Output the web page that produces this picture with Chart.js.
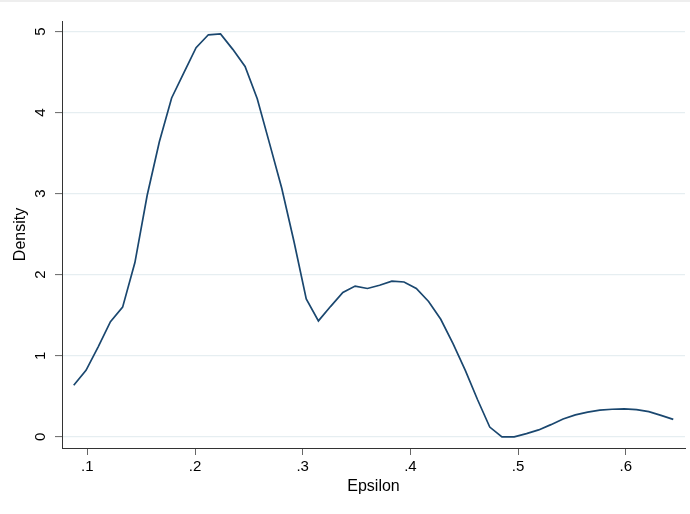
<!DOCTYPE html>
<html>
<head>
<meta charset="utf-8">
<script src="https://cdn.jsdelivr.net/npm/chart.js@4/dist/chart.umd.min.js"></script>
<style>
  html, body { margin: 0; padding: 0; background: #ffffff; }
  #wrap { width: 690px; height: 514px; position: relative; }
</style>
</head>
<body>
<div id="wrap"><canvas id="c" width="690" height="514"></canvas></div>
<script>
// Evaluation points (Epsilon) of the density estimate
const epsilon = [0.0874, 0.0988, 0.1101, 0.1215, 0.1328, 0.1442, 0.1556, 0.1669, 0.1783, 0.1896,
                 0.2010, 0.2124, 0.2237, 0.2351, 0.2465, 0.2578, 0.2692, 0.2805, 0.2919, 0.3033,
                 0.3146, 0.3260, 0.3373, 0.3487, 0.3601, 0.3714, 0.3828, 0.3941, 0.4055, 0.4169,
                 0.4282, 0.4396, 0.4510, 0.4623, 0.4737, 0.4850, 0.4964, 0.5078, 0.5191, 0.5305,
                 0.5418, 0.5532, 0.5646, 0.5759, 0.5873, 0.5986, 0.6100, 0.6214, 0.6327, 0.6441];
// Density values
const density = [0.636, 0.82, 1.11, 1.42, 1.60, 2.15, 2.98, 3.64, 4.18, 4.49,
                 4.80, 4.96, 4.97, 4.78, 4.57, 4.17, 3.62, 3.07, 2.41, 1.70,
                 1.43, 1.61, 1.78, 1.86, 1.83, 1.87, 1.92, 1.91, 1.83, 1.67,
                 1.45, 1.15, 0.82, 0.46, 0.12, 0.0, 0.0, 0.04, 0.085, 0.15,
                 0.22, 0.27, 0.305, 0.33, 0.34, 0.345, 0.336, 0.31, 0.265, 0.215];
// Tick values
const xTicks = [0.1, 0.2, 0.3, 0.4, 0.5, 0.6];
const yTicks = [0, 1, 2, 3, 4, 5];
const xTitle = 'Epsilon';
const yTitle = 'Density';

const FONT = '"Liberation Sans", Arial, Helvetica, sans-serif';
const fmtX = v => v.toFixed(1).replace(/^0/, '');

const yLabelPlugin = {
  id: 'yLabels',
  beforeDraw(chart) {
    const ctx = chart.ctx;
    ctx.save();
    ctx.fillStyle = '#eeeeee';
    ctx.fillRect(0, 0, 690, 2);
    ctx.restore();
  },
  afterDraw(chart) {
    const ctx = chart.ctx;
    const ys = chart.scales.y;
    ctx.save();
    ctx.fillStyle = '#000000';
    ctx.font = '15px ' + FONT;
    ctx.textAlign = 'center';
    ctx.textBaseline = 'middle';
    yTicks.forEach(v => {
      const py = ys.getPixelForValue(v);
      ctx.save();
      ctx.translate(41, py);
      ctx.rotate(-Math.PI / 2);
      ctx.fillText(String(v), 0, 0);
      ctx.restore();
    });
    ctx.restore();
  }
};

new Chart(document.getElementById('c'), {
  type: 'line',
  data: {
    datasets: [{
      data: epsilon.map((x, i) => ({ x: x, y: density[i] })),
      borderColor: '#1a476f',
      borderWidth: 1.7,
      pointRadius: 0,
      tension: 0,
      fill: false
    }]
  },
  options: {
    responsive: false,
    animation: false,
    devicePixelRatio: 1,
    layout: { padding: { top: 21, right: 5, left: 0, bottom: 0 } },
    plugins: { legend: { display: false }, tooltip: { enabled: false } },
    scales: {
      x: {
        type: 'linear',
        min: 0.0765,
        max: 0.655,
        afterBuildTicks: s => { s.ticks = xTicks.map(v => ({ value: v })); },
        afterFit: s => { s.height = 66; },
        grid: { drawOnChartArea: false, drawTicks: true, tickLength: 7, tickColor: '#666666', tickWidth: 1 },
        border: { display: true, color: '#333333', width: 1 },
        ticks: {
          callback: v => fmtX(v),
          color: '#000000',
          font: { family: FONT, size: 15 },
          padding: 3,
          maxRotation: 0
        },
        title: {
          display: true,
          text: xTitle,
          color: '#000000',
          font: { family: FONT, size: 16 },
          padding: { top: 0, bottom: 18 }
        }
      },
      y: {
        type: 'linear',
        min: -0.138,
        max: 5.13,
        afterBuildTicks: s => { s.ticks = yTicks.map(v => ({ value: v })); },
        afterFit: s => { s.width = 62; },
        grid: { color: '#e6eef1', lineWidth: 1.2, drawTicks: true, tickLength: 7, tickColor: '#666666', tickWidth: 1 },
        border: { display: true, color: '#333333', width: 1 },
        ticks: { display: false },
        title: {
          display: true,
          text: yTitle,
          color: '#000000',
          font: { family: FONT, size: 16 },
          padding: { top: 11, bottom: 0 }
        }
      }
    }
  },
  plugins: [yLabelPlugin]
});
</script>
</body>
</html>
